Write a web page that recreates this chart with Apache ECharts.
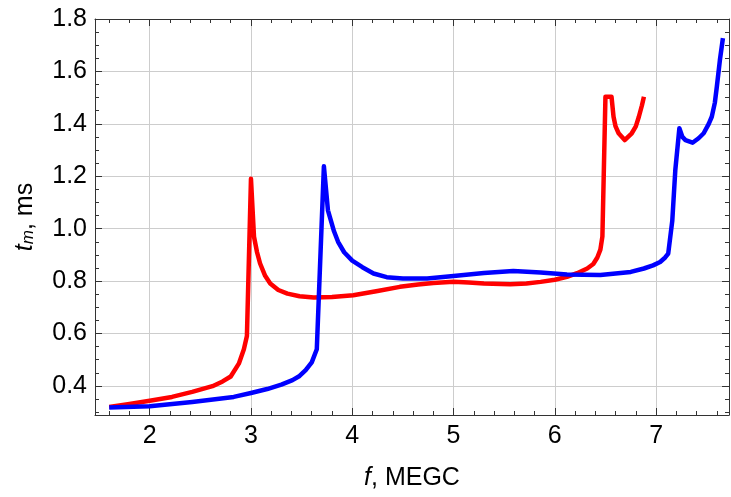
<!DOCTYPE html>
<html>
<head>
<meta charset="utf-8">
<script src="https://cdn.jsdelivr.net/npm/echarts@6/dist/echarts.min.js"></script>
<style>
  html, body { margin: 0; padding: 0; background: #ffffff; }
  #chart { width: 731px; height: 497px; }
</style>
</head>
<body>
<div id="chart"></div>
<script>
// Resonance curves: response time t_m (ms) against frequency f (MEGC)
const freqRed = [1.6, 1.8, 2.0, 2.22, 2.42, 2.62, 2.72, 2.8, 2.88, 2.93, 2.96, 3.0, 3.03, 3.06, 3.09, 3.14, 3.19, 3.27, 3.36, 3.48, 3.62, 3.8, 4.01, 4.25, 4.47, 4.65, 4.8, 5.0, 5.15, 5.3, 5.56, 5.72, 5.86, 6.0, 6.12, 6.22, 6.32, 6.38, 6.42, 6.45, 6.47, 6.5, 6.56, 6.58, 6.6, 6.63, 6.69, 6.76, 6.8, 6.83, 6.86, 6.88];
const timeRed = [0.32, 0.331, 0.343, 0.358, 0.377, 0.399, 0.417, 0.436, 0.485, 0.54, 0.59, 1.19, 0.969, 0.91, 0.867, 0.82, 0.791, 0.766, 0.752, 0.742, 0.737, 0.739, 0.746, 0.762, 0.778, 0.787, 0.793, 0.797, 0.795, 0.791, 0.788, 0.791, 0.797, 0.805, 0.816, 0.83, 0.848, 0.865, 0.89, 0.92, 0.97, 1.503, 1.503, 1.427, 1.39, 1.364, 1.338, 1.364, 1.39, 1.427, 1.47, 1.503];

const freqBlue = [1.6, 2.0, 2.42, 2.83, 3.0, 3.16, 3.3, 3.41, 3.48, 3.54, 3.6, 3.65, 3.72, 3.76, 3.79, 3.82, 3.86, 3.92, 4.0, 4.1, 4.21, 4.34, 4.5, 4.74, 5.0, 5.3, 5.59, 5.86, 6.12, 6.45, 6.75, 6.88, 6.97, 7.04, 7.09, 7.12, 7.16, 7.19, 7.23, 7.26, 7.29, 7.36, 7.42, 7.47, 7.52, 7.55, 7.58, 7.6, 7.63, 7.66];
const timeBlue = [0.318, 0.322, 0.339, 0.358, 0.373, 0.388, 0.405, 0.422, 0.438, 0.46, 0.49, 0.54, 1.238, 1.07, 1.03, 0.99, 0.95, 0.91, 0.878, 0.853, 0.829, 0.815, 0.81, 0.81, 0.819, 0.831, 0.838, 0.833, 0.825, 0.823, 0.835, 0.848, 0.86, 0.873, 0.89, 0.905, 1.03, 1.224, 1.383, 1.35, 1.338, 1.328, 1.345, 1.364, 1.4, 1.427, 1.48, 1.542, 1.643, 1.727];

const xTicks = [2, 3, 4, 5, 6, 7];
const yTicks = [0.4, 0.6, 0.8, 1.0, 1.2, 1.4, 1.6, 1.8];

const X_MIN = 1.46, X_MAX = 7.72;
const Y_MIN = 0.289, Y_MAX = 1.8;

// minor tick positions: every 0.2 on f, every 0.05 on t
const xMinor = [];
for (let k = 8; k <= 38; k++) xMinor.push(+(k * 0.2).toFixed(2));
const yMinor = [];
for (let k = 6; k <= 35; k++) yMinor.push(+(k * 0.05).toFixed(2));

const FONT = '"Liberation Sans", Arial, sans-serif';
const FRAME = '#333333';
const GRIDC = '#cdcdcd';

function frameAxis(kind, position, ticks, tickLen, opts) {
  const isX = kind === 'x';
  return Object.assign({
    type: 'value',
    position: position,
    min: isX ? X_MIN : Y_MIN,
    max: isX ? X_MAX : Y_MAX,
    axisLine: { show: false, onZero: false, lineStyle: { color: FRAME, width: 1 } },
    axisTick: { show: true, inside: true, length: tickLen, customValues: ticks,
                lineStyle: { color: FRAME, width: 1 } },
    axisLabel: { show: false },
    splitLine: { show: false }
  }, opts || {});
}

const xAxes = [
  frameAxis('x', 'bottom', xTicks, 7, {
    axisLine: { show: true, onZero: false, lineStyle: { color: FRAME, width: 1 } },
    axisLabel: { show: true, customValues: xTicks, margin: 9, fontSize: 25, lineHeight: 24,
                 fontFamily: FONT, color: '#000', formatter: v => String(v) },
    splitLine: { show: true, lineStyle: { color: GRIDC, width: 1 } },
    name: '{i|f}{n|, MEGC}',
    nameLocation: 'middle',
    nameGap: 51,
    nameTextStyle: {
      rich: {
        i: { fontFamily: FONT, fontSize: 25, fontStyle: 'italic', color: '#000', lineHeight: 24 },
        n: { fontFamily: FONT, fontSize: 25, color: '#000', lineHeight: 24 }
      }
    }
  }),
  frameAxis('x', 'bottom', xMinor, 4),
  frameAxis('x', 'top', xTicks, 7, {
    axisLine: { show: true, onZero: false, lineStyle: { color: FRAME, width: 1 } }
  }),
  frameAxis('x', 'top', xMinor, 4)
];

const yAxes = [
  frameAxis('y', 'left', yTicks, 7, {
    axisLine: { show: true, onZero: false, lineStyle: { color: FRAME, width: 1 } },
    axisLabel: { show: true, customValues: yTicks, margin: 8, fontSize: 25,
                 fontFamily: FONT, color: '#000', formatter: v => v.toFixed(1) },
    splitLine: { show: true, lineStyle: { color: GRIDC, width: 1 } },
    name: '{t|t}{s|m}{n|, ms}',
    nameLocation: 'middle',
    nameRotate: 90,
    nameGap: 58,
    nameTextStyle: {
      rich: {
        t: { fontFamily: FONT, fontSize: 25, fontStyle: 'italic', color: '#000', lineHeight: 24 },
        s: { fontFamily: FONT, fontSize: 17, fontStyle: 'italic', color: '#000', lineHeight: 12,
             verticalAlign: 'bottom' },
        n: { fontFamily: FONT, fontSize: 25, color: '#000', lineHeight: 24 }
      }
    }
  }),
  frameAxis('y', 'left', yMinor, 4),
  frameAxis('y', 'right', yTicks, 7, {
    axisLine: { show: true, onZero: false, lineStyle: { color: FRAME, width: 1 } }
  }),
  frameAxis('y', 'right', yMinor, 4)
];

function pairs(xs, ys) { return xs.map((x, i) => [x, ys[i]]); }

const chart = echarts.init(document.getElementById('chart'), null, { renderer: 'canvas' });
chart.setOption({
  animation: false,
  backgroundColor: '#ffffff',
  grid: { left: 95, right: 2, top: 19, bottom: 82, containLabel: false },
  xAxis: xAxes,
  yAxis: yAxes,
  series: [
    {
      type: 'line', xAxisIndex: 0, yAxisIndex: 0,
      data: pairs(freqRed, timeRed),
      showSymbol: false, symbol: 'none',
      lineStyle: { color: '#ff0000', width: 4.5, join: 'round' },
      itemStyle: { color: '#ff0000' }
    },
    {
      type: 'line', xAxisIndex: 0, yAxisIndex: 0,
      data: pairs(freqBlue, timeBlue),
      showSymbol: false, symbol: 'none',
      lineStyle: { color: '#0000ff', width: 4.5, join: 'round' },
      itemStyle: { color: '#0000ff' }
    }
  ]
});
</script>
</body>
</html>
